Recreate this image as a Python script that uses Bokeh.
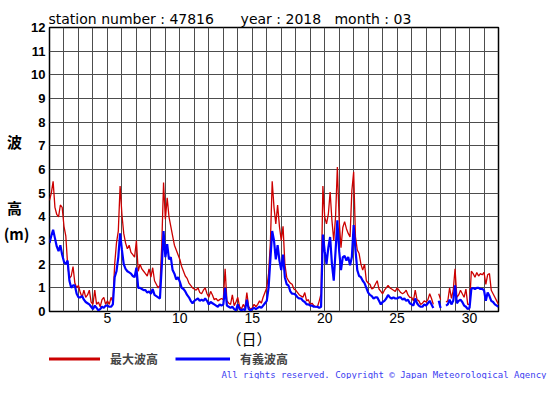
from bokeh.plotting import figure
from bokeh.layouts import column
from bokeh.models import (Range1d, FixedTicker, Legend, LegendItem, LinearAxis,
                          Title)
from bokeh.embed import file_html
from bokeh.resources import INLINE

NA = float("nan")
STEPS_PER_DAY = 8  # 3-hourly samples, day 1.0 .. 32.0

# 最大波高 (m), 8 values per day
max_wave = [
    4.7, 5.0, 5.5, 4.4, 4.1, 4.0, 4.5, 4.4,
    3.6, 3.2, 2.0, 1.4, 1.5, 1.9, 1.2, 1.0,
    1.1, 0.8, 0.6, 0.9, 0.6, 0.7, 0.9, 0.4,
    0.3, 0.9, 0.3, 0.4, 0.2, 0.5, 0.6, 0.3,
    0.45, 0.3, 0.6, 0.4, 2.0, 2.9, 3.4, 5.3,
    4.1, 3.3, 2.9, 2.65, 2.8, 2.5, 2.4, 2.3,
    3.0, 1.7, 2.0, 1.8, 1.7, 1.6, 1.5, 1.8,
    1.45, 1.85, 1.3, 1.15, 1.0, 1.1, 2.8, 5.45,
    3.9, 4.8, 4.0, 3.6, 3.2, 2.8, 2.6, 2.4,
    2.2, 1.9, 1.7, 1.5, 1.4, 1.2, 1.1, 1.0,
    0.95, 0.9, 1.0, 0.8, 0.75, 0.9, 1.0, 0.75,
    0.6, 0.85, 0.7, 0.5, 0.55, 0.45, 0.5, 0.55,
    0.5, 1.8, 0.45, 0.35, 0.3, 0.7, 0.25, 0.4,
    0.6, 0.2, 0.1, 0.3, 0.15, 0.8, 0.2, 0.1,
    0.15, 0.3, 0.2, 0.3, 0.45, 0.35, 0.6, 0.8,
    1.0, 1.6, 2.9, 5.5, 4.4, 3.7, 4.5, 3.6,
    3.0, 3.6, 2.0, 1.45, 1.3, 1.2, 1.15, 0.95,
    0.9, 0.8, 0.7, 0.65, 0.6, 0.8, 0.45, 0.5,
    0.3, 0.35, 0.25, 0.2, 0.2, 0.45, 0.75, 5.3,
    4.0, 3.7, 4.1, 5.05, 3.85, 3.0, 4.0, 6.1,
    3.85, 2.7, 3.55, 3.8, 3.5, 3.3, 3.15, 5.1,
    5.9, 3.15, 2.6, 2.45, 2.0, 1.75, 2.0, 1.3,
    1.2, 1.15, 0.95, 1.0, 1.15, 1.3, 0.95, 0.85,
    0.75, 0.9, 1.0, 1.1, 1.0, 0.95, 0.9, 0.85,
    1.0, 0.9, 0.8, 0.75, 0.8, 0.9, 0.7, 0.6,
    0.6, 0.45, 0.9, 0.5, 0.45, 0.3, 0.35, 0.45,
    0.4, 0.5, 0.75, 0.55, 0.3, NA, NA, 0.75,
    0.5, NA, NA, 0.4, 0.45, 1.0, 0.55, 0.9,
    1.8, 0.6, 0.7, 0.9, 0.75, 0.6, 0.95, 0.3,
    0.3, 1.7, 1.6, 1.45, 1.65, 1.5, 1.6, 1.55,
    1.65, 1.15, 1.55, 1.6, 0.9, 0.75, 0.6, 0.45,
    0.3,
]

# 有義波高 (m), 8 values per day
sig_wave = [
    2.9, 3.2, 3.45, 3.1, 2.75, 2.55, 2.8, 2.4,
    2.1, 2.0, 2.15, 1.3, 1.0, 1.1, 1.1, 0.75,
    0.6, 0.6, 0.65, 0.5, 0.4, 0.35, 0.3, 0.2,
    0.1, 0.25, 0.15, 0.05, 0.1, 0.2, 0.15, 0.25,
    0.25, 0.2, 0.2, 0.3, 1.45, 1.7, 2.3, 3.3,
    2.6, 2.0, 1.8, 1.7, 1.65, 1.6, 1.5, 1.45,
    1.85, 1.0, 1.0, 0.95, 0.9, 0.9, 0.8, 0.85,
    0.75, 0.95, 0.7, 0.65, 0.6, 0.55, 1.9, 3.4,
    2.3, 2.85, 2.2, 2.3, 1.75, 1.6, 1.35, 1.45,
    1.25, 1.0, 0.95, 0.85, 0.7, 0.6, 0.45, 0.35,
    0.45, 0.5, 0.55, 0.45, 0.5, 0.45, 0.55, 0.45,
    0.3, 0.4, 0.35, 0.3, 0.25, 0.2, 0.3, 0.25,
    0.3, 1.0, 0.25, 0.2, 0.15, 0.2, 0.1, 0.05,
    0.3, 0.1, 0.05, 0.1, 0.05, 0.5, 0.1, 0.05,
    0.1, 0.15, 0.1, 0.15, 0.2, 0.15, 0.25, 0.35,
    0.45, 1.0, 2.2, 3.4, 3.0, 2.2, 2.8, 2.15,
    1.75, 2.4, 1.45, 1.15, 1.1, 0.85, 0.75, 0.75,
    0.7, 0.6, 0.55, 0.55, 0.45, 0.4, 0.3, 0.3,
    0.25, 0.25, 0.2, 0.2, 0.2, 0.15, 0.2, 3.25,
    2.55, 2.0, 2.7, 3.15, 2.0, 1.3, 2.55, 3.85,
    2.55, 1.75, 2.3, 2.35, 2.15, 2.3, 1.95, 2.3,
    3.65, 2.6, 1.75, 1.5, 1.45, 1.3, 1.2, 1.0,
    0.8, 0.7, 0.65, 0.55, 0.6, 0.6, 0.45, 0.3,
    0.4, 0.45, 0.55, 0.7, 0.6, 0.55, 0.6, 0.55,
    0.55, 0.6, 0.6, 0.5, 0.55, 0.45, 0.5, 0.35,
    0.3, 0.25, 0.55, 0.35, 0.25, 0.2, 0.2, 0.3,
    0.25, 0.35, 0.45, 0.3, 0.15, NA, NA, 0.45,
    0.15, NA, NA, 0.25, 0.3, 0.5, 0.3, 0.45,
    1.1, 0.35, 0.45, 0.5, 0.4, 0.25, 0.2, 0.1,
    0.15, 0.95, 1.0, 0.95, 1.0, 1.0, 0.95, 0.95,
    0.9, 0.45, 0.8, 0.65, 0.45, 0.4, 0.3, 0.25,
    0.2,
]

times = [1 + k / STEPS_PER_DAY for k in range(len(max_wave))]

x_tick_days = [5, 10, 15, 20, 25, 30]
grid_days = list(range(1, 33))
y_ticks = list(range(0, 13))

# vertical label "波 高 (m)" rows, placed at these heights on the y scale
ylabel_rows = [7.2, 4.4, 3.3]
ylabel_texts = ["波\u2002", "高\u2002", "(m)"]

NB = "\u00a0"
title_text = ("station number : 47816" + NB * 6 + "year : 2018" + NB * 3
              + "month : 03")
xlabel_text = "（日）"
legend_max = "最大波高"
legend_sig = "有義波高"
copyright_text = "All rights reserved. Copyright © Japan Meteorological Agency"

RED = "#cc0000"
BLUE = "#0000ff"
W = 547
P_H = 350   # main chart height
Q_H = 29    # legend strip height
BORDER_L, BORDER_R = 44, 49

# ---------------- main chart ----------------
p = figure(width=W, height=P_H, output_backend="svg", toolbar_location=None,
           x_range=Range1d(1, 32), y_range=Range1d(0, 12),
           min_border_left=BORDER_L, min_border_right=BORDER_R,
           min_border_top=27, min_border_bottom=39)
p.background_fill_color = "white"
p.border_fill_color = "white"
p.outline_line_color = "black"
p.outline_line_width = 1.5

p.title.text = title_text
p.title.align = "left"
p.title.offset = -1
p.title.standoff = 1
p.title.text_font = "DejaVu Sans"
p.title.text_font_size = "14px"
p.title.text_font_style = "normal"
p.title.text_color = "black"

p.xaxis.ticker = FixedTicker(ticks=x_tick_days)
p.yaxis.ticker = FixedTicker(ticks=y_ticks)
p.xgrid.ticker = FixedTicker(ticks=grid_days)
p.ygrid.ticker = FixedTicker(ticks=y_ticks)
for g in (p.xgrid, p.ygrid):
    g.grid_line_color = "#4d4d4d"
    g.grid_line_width = 1
    g.grid_line_alpha = 1

# second left axis carrying the vertical "波 高 (m)" label
yl_axis = LinearAxis(ticker=FixedTicker(ticks=ylabel_rows),
                     major_label_overrides=dict(zip(ylabel_rows, ylabel_texts)))
p.add_layout(yl_axis, "left")

for ax in (p.xaxis[0], p.yaxis[0], yl_axis):
    ax.axis_line_color = None
    ax.major_tick_line_color = None
    ax.minor_tick_line_color = None
    ax.major_tick_out = 0
    ax.major_tick_in = 0
    ax.minor_tick_out = 0
    ax.major_label_text_color = "black"

p.xaxis.major_label_text_font = "Liberation Sans"
p.xaxis.major_label_text_font_size = "14px"
p.xaxis.major_label_standoff = 1
p.yaxis[0].major_label_text_font = "Liberation Sans"
p.yaxis[0].major_label_text_font_size = "13px"
p.yaxis[0].major_label_text_font_style = "bold"
p.yaxis[0].major_label_standoff = 4
yl_axis.major_label_standoff = -1
yl_axis.major_label_text_font = "Noto Sans CJK JP"
yl_axis.major_label_text_font_size = "15px"
yl_axis.major_label_text_font_style = "bold"

p.line(times, max_wave, line_color=RED, line_width=1.3)
p.line(times, sig_wave, line_color=BLUE, line_width=2.2)

# x label "（日）"
day_title = Title(text=xlabel_text, align="left", offset=177, standoff=0,
                  text_font="Noto Sans CJK JP", text_font_size="15px",
                  text_font_style="normal", text_color="black")
p.add_layout(day_title, "below")

# ---------------- legend strip (canvas y 350..379) ----------------
q = figure(width=W, height=Q_H, output_backend="svg", toolbar_location=None,
           x_range=Range1d(0, 1), y_range=Range1d(0, 1),
           min_border_left=BORDER_L, min_border_right=BORDER_R,
           min_border_top=0, min_border_bottom=0)
q.axis.visible = False
q.grid.visible = False
q.outline_line_color = None
q.background_fill_color = "white"
q.border_fill_color = "white"

# one-point (NaN) renderers: they only provide the legend swatches
leg_red = q.line(x=[NA], y=[NA], line_color=RED, line_width=3)
leg_blue = q.line(x=[NA], y=[NA], line_color=BLUE, line_width=3)
legend = Legend(items=[LegendItem(label=legend_max, renderers=[leg_red]),
                       LegendItem(label=legend_sig, renderers=[leg_blue])],
                location=(-4, 0), orientation="horizontal",
                glyph_width=55, glyph_height=17, label_height=17,
                label_standoff=10, spacing=17, padding=0, margin=0,
                border_line_color=None, background_fill_alpha=0,
                label_text_font="Noto Sans CJK JP", label_text_font_style="bold",
                label_text_font_size="12px")
q.add_layout(legend)

copy_title = Title(text=copyright_text, align="right", offset=-48, standoff=0,
                   text_font="DejaVu Sans Mono", text_font_size="9px",
                   text_font_style="normal", text_color="#3c3cf0")
q.add_layout(copy_title, "below")

layout = column(p, q, spacing=0)
open("out.html", "w").write(file_html(layout, INLINE))
